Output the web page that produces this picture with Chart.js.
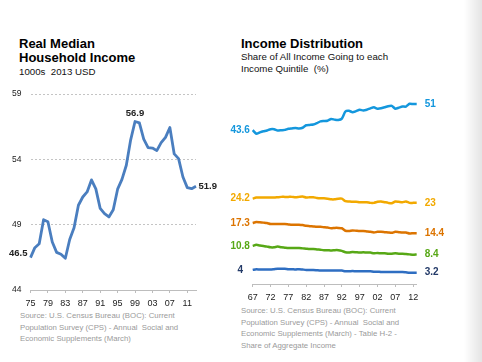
<!DOCTYPE html>
<html>
<head>
<meta charset="utf-8">
<script src="https://cdn.jsdelivr.net/npm/chart.js@4/dist/chart.umd.min.js"></script>
<style>
  body { margin: 0; width: 482px; height: 362px; background: #fff; overflow: hidden; position: relative;
         font-family: 'Liberation Sans', Arial, sans-serif; }
  .box { position: absolute; }
  .title { font-weight: bold; font-size: 13px; line-height: 14px; color: #000; }
  .sub { font-size: 9.7px; line-height: 11.5px; color: #111; }
  .src { font-size: 7.8px; line-height: 11.6px; color: #9a9a9a; white-space: nowrap; }
  .shade { position: absolute; top: 0; right: 0; width: 18px; height: 362px;
           background: linear-gradient(to right, #ffffff, #e4e4e4); }
</style>
</head>
<body>
<div class="box" style="left:19px; top:37px;">
  <div class="title">Real Median<br>Household Income</div>
  <div class="sub" style="margin-top:1px;">1000s&nbsp; 2013 USD</div>
</div>
<div class="box" style="left:241px; top:37px;">
  <div class="title">Income Distribution</div>
  <div class="sub">Share of All Income Going to each<br>Income Quintile&nbsp; (%)</div>
</div>

<div class="box" style="left:0; top:80px; width:222px; height:230px;"><canvas id="incomeChart"></canvas></div>
<div class="box" style="left:225px; top:80px; width:250px; height:224px;"><canvas id="shareChart"></canvas></div>

<div class="box src" style="left:20px; top:310px;">Source: U.S. Census Bureau (BOC): Current<br>Population Survey (CPS) - Annual&nbsp; Social and<br>Economic Supplements (March)</div>
<div class="box src" style="left:241px; top:305px;">Source: U.S. Census Bureau (BOC): Current<br>Population Survey (CPS) - Annual&nbsp; Social and<br>Economic Supplements (March) - Table H-2 -<br>Share of Aggregate Income</div>
<div class="shade"></div>

<script>
// Real median household income, 1000s of 2013 USD
const incomeYears = [1975, 1976, 1977, 1978, 1979, 1980, 1981, 1982, 1983, 1984, 1985, 1986, 1987,
    1988, 1989, 1990, 1991, 1992, 1993, 1994, 1995, 1996, 1997, 1998, 1999, 2000, 2001, 2002,
    2003, 2004, 2005, 2006, 2007, 2008, 2009, 2010, 2011, 2012, 2013];
const medianIncome = [46.48, 47.24, 47.54, 49.38, 49.23, 47.67, 46.88, 46.74, 46.43, 47.87, 48.76,
    50.49, 51.12, 51.51, 52.43, 51.74, 50.25, 49.84, 49.59, 50.15, 51.72, 52.47, 53.55, 55.50,
    56.90, 56.80, 55.56, 54.91, 54.87, 54.67, 55.28, 55.69, 56.44, 54.42, 54.06, 52.65, 51.84,
    51.76, 51.94];
const incomeTickYears = [1975, 1979, 1983, 1987, 1991, 1995, 1999, 2003, 2007, 2011];
const incomeLabels = { first: '46.5', peak: '56.9', last: '51.9' };

// Share of aggregate income by quintile (%), 1967-2013
const shareYears = [];
for (let y = 1967; y <= 2013; y++) shareYears.push(y);
const shareTickYears = [1967, 1972, 1977, 1982, 1987, 1992, 1997, 2002, 2007, 2012];
const topFifth = [43.6, 42.6, 43.0, 43.3, 43.5, 43.9, 43.9, 43.5, 43.6, 43.7,
    44.0, 44.1, 44.2, 44.1, 44.3, 45.0, 45.1, 45.2, 45.6, 46.1,
    46.2, 46.3, 46.8, 46.6, 46.5, 46.9, 48.9, 49.1, 48.7, 49.0,
    49.4, 49.2, 49.4, 49.8, 50.1, 49.7, 49.8, 50.1, 50.4, 50.5,
    49.7, 50.0, 50.3, 50.3, 51.1, 51.0, 51.0];
const fourthFifth = [24.2, 24.5, 24.5, 24.5, 24.5, 24.5, 24.5, 24.6, 24.7, 24.7,
    24.7, 24.7, 24.6, 24.7, 24.8, 24.5, 24.6, 24.6, 24.4, 24.3,
    24.3, 24.2, 24.0, 24.0, 24.2, 24.2, 23.5, 23.4, 23.3, 23.3,
    23.2, 23.2, 23.2, 23.0, 23.0, 23.3, 23.4, 23.2, 23.0, 22.9,
    23.4, 23.3, 23.2, 23.4, 23.0, 23.0, 23.0];
const middleFifth = [17.3, 17.6, 17.5, 17.4, 17.3, 17.0, 17.0, 17.0, 17.0, 17.0,
    16.9, 16.8, 16.8, 16.8, 16.7, 16.5, 16.4, 16.3, 16.2, 16.2,
    16.1, 16.0, 15.8, 15.9, 15.9, 15.8, 15.1, 15.0, 15.2, 15.1,
    15.0, 15.0, 14.9, 14.8, 14.6, 14.8, 14.8, 14.7, 14.6, 14.5,
    14.8, 14.7, 14.6, 14.6, 14.3, 14.4, 14.4];
const secondFifth = [10.8, 11.1, 10.9, 10.8, 10.6, 10.4, 10.4, 10.6, 10.4, 10.3,
    10.2, 10.2, 10.2, 10.2, 10.1, 10.0, 9.9, 9.9, 9.8, 9.7,
    9.6, 9.6, 9.5, 9.6, 9.6, 9.4, 9.0, 8.9, 9.1, 9.0,
    8.9, 9.0, 8.9, 8.9, 8.7, 8.8, 8.7, 8.7, 8.6, 8.6,
    8.7, 8.6, 8.6, 8.5, 8.4, 8.3, 8.4];
const lowestFifth = [4.0, 4.2, 4.1, 4.1, 4.1, 4.1, 4.2, 4.3, 4.3, 4.3,
    4.2, 4.2, 4.1, 4.2, 4.1, 4.0, 4.0, 4.0, 3.9, 3.8,
    3.8, 3.8, 3.8, 3.8, 3.8, 3.8, 3.6, 3.6, 3.7, 3.6,
    3.6, 3.6, 3.6, 3.6, 3.5, 3.5, 3.4, 3.4, 3.4, 3.4,
    3.4, 3.4, 3.4, 3.3, 3.2, 3.2, 3.2];

Chart.defaults.font.family = "'Liberation Sans', Arial, sans-serif";
Chart.defaults.font.size = 9;
Chart.defaults.color = '#333';

const axisGray = '#bdbdbd';

// labels at the ends of the lines
const incomeLabelPlugin = {
    id: 'incomeLabels',
    afterDatasetsDraw(chart) {
        const ctx = chart.ctx;
        const pts = chart.getDatasetMeta(0).data;
        const peak = medianIncome.indexOf(Math.max(...medianIncome));
        ctx.save();
        ctx.font = "bold 9.5px 'Liberation Sans', Arial, sans-serif";
        ctx.fillStyle = '#222';
        ctx.textBaseline = 'middle';
        ctx.textAlign = 'right';
        ctx.fillText(incomeLabels.first, pts[0].x - 3, pts[0].y - 4);
        ctx.textAlign = 'left';
        const last = pts[pts.length - 1];
        ctx.fillText(incomeLabels.last, last.x + 2.5, last.y);
        ctx.textAlign = 'center';
        ctx.fillText(incomeLabels.peak, pts[peak].x, pts[peak].y - 8);
        ctx.restore();
    }
};

const shareLabelPlugin = {
    id: 'shareLabels',
    afterDatasetsDraw(chart) {
        const ctx = chart.ctx;
        ctx.save();
        ctx.font = "bold 10px 'Liberation Sans', Arial, sans-serif";
        ctx.textBaseline = 'middle';
        chart.data.datasets.forEach((ds, i) => {
            const pts = chart.getDatasetMeta(i).data;
            const first = pts[0], last = pts[pts.length - 1];
            ctx.fillStyle = ds.labelColor;
            ctx.textAlign = 'center';
            ctx.fillText(String(ds.data[0]), first.x - 12.5, first.y);
            ctx.textAlign = 'left';
            ctx.fillText(String(ds.data[ds.data.length - 1]), last.x + 8, last.y);
        });
        ctx.restore();
    }
};

new Chart(document.getElementById('incomeChart'), {
    type: 'line',
    data: {
        labels: incomeYears,
        datasets: [{
            data: medianIncome,
            borderColor: '#4a7ebf',
            borderWidth: 2.8,
            pointRadius: 0,
            tension: 0,
            borderJoinStyle: 'round'
        }]
    },
    options: {
        responsive: true,
        maintainAspectRatio: false,
        animation: false,
        events: [],
        layout: { padding: { left: 0.5, right: 26, top: 11, bottom: 0 } },
        plugins: { legend: { display: false }, tooltip: { enabled: false } },
        scales: {
            x: {
                grid: {
                    drawOnChartArea: false,
                    drawTicks: true,
                    tickLength: 3,
                    color: (c) => incomeTickYears.includes(incomeYears[c.index]) ? axisGray : 'rgba(0,0,0,0)'
                },
                border: { display: true, color: axisGray, width: 1 },
                ticks: {
                    autoSkip: false,
                    maxRotation: 0,
                    padding: 5,
                    color: '#222',
                    callback: (v, i) => incomeTickYears.includes(incomeYears[i]) ? String(incomeYears[i]).slice(2) : ''
                },
                afterFit: (s) => { s.height = 20; }
            },
            y: {
                min: 44,
                max: 59,
                ticks: { stepSize: 5, padding: 9, color: '#222', font: { size: 8.5 } },
                grid: {
                    drawTicks: false,
                    color: (c) => c.tick && c.tick.value === 44 ? 'rgba(0,0,0,0)' : '#c4c4c4'
                },
                border: { display: false, dash: [2, 2] },
                afterFit: (s) => { s.width = 30; }
            }
        }
    },
    plugins: [incomeLabelPlugin]
});

new Chart(document.getElementById('shareChart'), {
    type: 'line',
    data: {
        labels: shareYears,
        datasets: [
            { data: topFifth, borderColor: '#1497dd', labelColor: '#1497dd' },
            { data: fourthFifth, borderColor: '#f2a900', labelColor: '#f2a900' },
            { data: middleFifth, borderColor: '#dc7400', labelColor: '#dc7400' },
            { data: secondFifth, borderColor: '#57a816', labelColor: '#57a816' },
            { data: lowestFifth, borderColor: '#2e6ec2', labelColor: '#233a68' }
        ].map(d => Object.assign(d, { borderWidth: 2.5, pointRadius: 0, tension: 0.2, borderJoinStyle: 'round' }))
    },
    options: {
        responsive: true,
        maintainAspectRatio: false,
        animation: false,
        events: [],
        layout: { padding: { left: 27.7, right: 58.3, top: 10, bottom: 0 } },
        plugins: { legend: { display: false }, tooltip: { enabled: false } },
        scales: {
            x: {
                grid: {
                    drawOnChartArea: false,
                    drawTicks: true,
                    tickLength: 3,
                    color: (c) => shareTickYears.includes(shareYears[c.index]) ? axisGray : 'rgba(0,0,0,0)'
                },
                border: { display: true, color: axisGray, width: 1 },
                ticks: {
                    autoSkip: false,
                    maxRotation: 0,
                    padding: 5,
                    color: '#222',
                    callback: (v, i) => shareTickYears.includes(shareYears[i]) ? String(shareYears[i]).slice(2) : ''
                },
                afterFit: (s) => { s.height = 20; }
            },
            y: { display: false, min: 0, max: 55 }
        }
    },
    plugins: [shareLabelPlugin]
});
</script>
</body>
</html>
